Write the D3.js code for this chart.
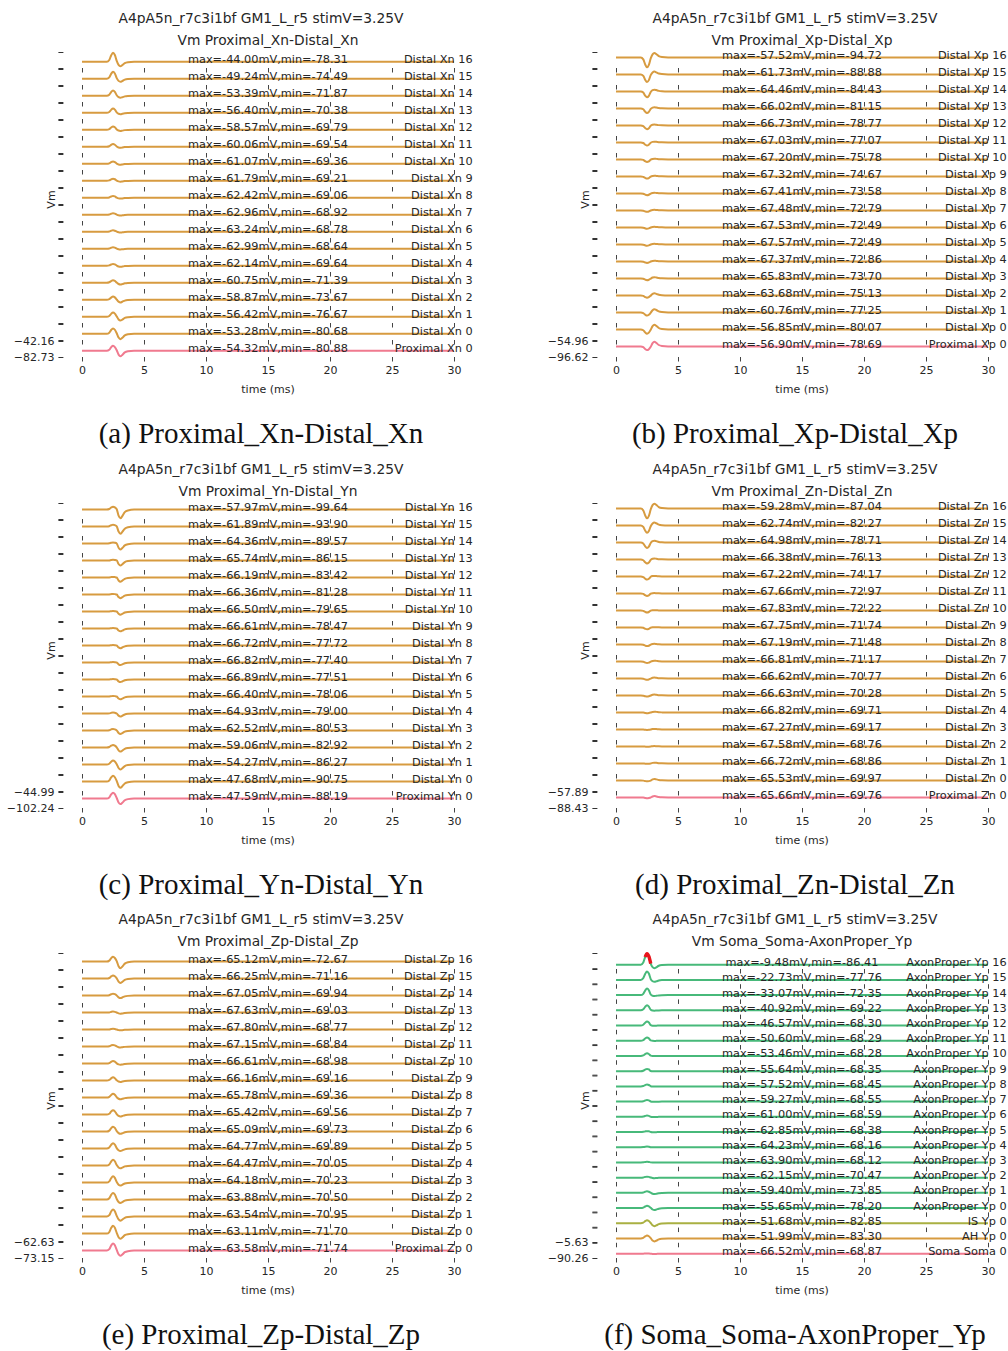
<!DOCTYPE html>
<html>
<head>
<meta charset="utf-8">
<script src="https://cdn.jsdelivr.net/npm/d3@7"></script>
<style>
  html, body { margin: 0; padding: 0; background: #fff; }
  svg { display: block; }
  .mpl { font-family: "DejaVu Sans", sans-serif; fill: #262626; }
  .cap { font-family: "Liberation Serif", "Times New Roman", serif; fill: #111; }
</style>
</head>
<body>
<svg id="fig" width="1008" height="1351"></svg>
<script>
// ---- shared text ----
const runTitle = "A4pA5n_r7c3i1bf GM1_L_r5 stimV=3.25V";
const xTickValues = [0, 5, 10, 15, 20, 25, 30];
const xLabel = "time (ms)";
const yLabel = "Vm";

// ---- spike waveform template (time in ms, normalised deflection) ----
const spikeTime  = [0, 2.0, 2.2, 2.35, 2.5, 2.65, 2.8, 2.95, 3.1, 3.25, 3.45, 3.7, 4.2, 30];
const peakFirst  = [0, 0, 0.2, 0.7, 1.0, 0.75, 0.1, -0.7, -1.0, -0.75, -0.3, -0.1, 0, 0];
const troughFirst = [0, 0, -0.2, -0.7, -1.0, -0.75, -0.1, 0.7, 1.0, 0.75, 0.3, 0.1, 0, 0];

// ---- (a) Proximal_Xn-Distal_Xn ----
const labelsA = ["Distal Xn 16","Distal Xn 15","Distal Xn 14","Distal Xn 13","Distal Xn 12","Distal Xn 11","Distal Xn 10","Distal Xn 9","Distal Xn 8","Distal Xn 7","Distal Xn 6","Distal Xn 5","Distal Xn 4","Distal Xn 3","Distal Xn 2","Distal Xn 1","Distal Xn 0","Proximal Xn 0"];
const maxA = [-44.00,-49.24,-53.39,-56.40,-58.57,-60.06,-61.07,-61.79,-62.42,-62.96,-63.24,-62.99,-62.14,-60.75,-58.87,-56.42,-53.28,-54.32];
const minA = [-78.31,-74.49,-71.87,-70.38,-69.79,-69.54,-69.36,-69.21,-69.06,-68.92,-68.78,-68.64,-69.64,-71.39,-73.67,-76.67,-80.68,-80.88];
const yTicksA = [-82.73, -42.16];
const restA = -67.0;

// ---- (b) Proximal_Xp-Distal_Xp ----
const labelsB = ["Distal Xp 16","Distal Xp 15","Distal Xp 14","Distal Xp 13","Distal Xp 12","Distal Xp 11","Distal Xp 10","Distal Xp 9","Distal Xp 8","Distal Xp 7","Distal Xp 6","Distal Xp 5","Distal Xp 4","Distal Xp 3","Distal Xp 2","Distal Xp 1","Distal Xp 0","Proximal Xp 0"];
const maxB = [-57.52,-61.73,-64.46,-66.02,-66.73,-67.03,-67.20,-67.32,-67.41,-67.48,-67.53,-67.57,-67.37,-65.83,-63.68,-60.76,-56.85,-56.90];
const minB = [-94.72,-88.88,-84.43,-81.15,-78.77,-77.07,-75.78,-74.67,-73.58,-72.79,-72.49,-72.49,-72.86,-73.70,-75.13,-77.25,-80.07,-78.69];
const yTicksB = [-96.62, -54.96];
const restB = -69.0;

// ---- (c) Proximal_Yn-Distal_Yn ----
const labelsC = ["Distal Yn 16","Distal Yn 15","Distal Yn 14","Distal Yn 13","Distal Yn 12","Distal Yn 11","Distal Yn 10","Distal Yn 9","Distal Yn 8","Distal Yn 7","Distal Yn 6","Distal Yn 5","Distal Yn 4","Distal Yn 3","Distal Yn 2","Distal Yn 1","Distal Yn 0","Proximal Yn 0"];
const maxC = [-57.97,-61.89,-64.36,-65.74,-66.19,-66.36,-66.50,-66.61,-66.72,-66.82,-66.89,-66.40,-64.93,-62.52,-59.06,-54.27,-47.68,-47.59];
const minC = [-99.64,-93.90,-89.57,-86.15,-83.42,-81.28,-79.65,-78.47,-77.72,-77.40,-77.51,-78.06,-79.00,-80.53,-82.92,-86.27,-90.75,-88.19];
const yTicksC = [-102.24, -44.99];
const restC = -68.5;

// ---- (d) Proximal_Zn-Distal_Zn ----
const labelsD = ["Distal Zn 16","Distal Zn 15","Distal Zn 14","Distal Zn 13","Distal Zn 12","Distal Zn 11","Distal Zn 10","Distal Zn 9","Distal Zn 8","Distal Zn 7","Distal Zn 6","Distal Zn 5","Distal Zn 4","Distal Zn 3","Distal Zn 2","Distal Zn 1","Distal Zn 0","Proximal Zn 0"];
const maxD = [-59.28,-62.74,-64.98,-66.38,-67.22,-67.66,-67.83,-67.75,-67.19,-66.81,-66.62,-66.63,-66.82,-67.27,-67.58,-66.72,-65.53,-65.66];
const minD = [-87.04,-82.27,-78.71,-76.13,-74.17,-72.97,-72.22,-71.74,-71.48,-71.17,-70.77,-70.28,-69.71,-69.17,-68.76,-68.86,-69.97,-69.76];
const yTicksD = [-88.43, -57.89];
const restD = -68.3;

// ---- (e) Proximal_Zp-Distal_Zp ----
const labelsE = ["Distal Zp 16","Distal Zp 15","Distal Zp 14","Distal Zp 13","Distal Zp 12","Distal Zp 11","Distal Zp 10","Distal Zp 9","Distal Zp 8","Distal Zp 7","Distal Zp 6","Distal Zp 5","Distal Zp 4","Distal Zp 3","Distal Zp 2","Distal Zp 1","Distal Zp 0","Proximal Zp 0"];
const maxE = [-65.12,-66.25,-67.05,-67.63,-67.80,-67.15,-66.61,-66.16,-65.78,-65.42,-65.09,-64.77,-64.47,-64.18,-63.88,-63.54,-63.11,-63.58];
const minE = [-72.67,-71.16,-69.94,-69.03,-68.77,-68.84,-68.98,-69.16,-69.36,-69.56,-69.73,-69.89,-70.05,-70.23,-70.50,-70.95,-71.70,-71.74];
const yTicksE = [-73.15, -62.63];
const restE = -68.3;

// ---- (f) Soma_Soma-AxonProper_Yp ----
const labelsF = ["AxonProper Yp 16","AxonProper Yp 15","AxonProper Yp 14","AxonProper Yp 13","AxonProper Yp 12","AxonProper Yp 11","AxonProper Yp 10","AxonProper Yp 9","AxonProper Yp 8","AxonProper Yp 7","AxonProper Yp 6","AxonProper Yp 5","AxonProper Yp 4","AxonProper Yp 3","AxonProper Yp 2","AxonProper Yp 1","AxonProper Yp 0","IS Yp 0","AH Yp 0","Soma Soma 0"];
const maxF = [-9.48,-22.73,-33.07,-40.92,-46.57,-50.60,-53.46,-55.64,-57.52,-59.27,-61.00,-62.85,-64.23,-63.90,-62.15,-59.40,-55.65,-51.68,-51.99,-66.52];
const minF = [-86.41,-77.76,-72.35,-69.22,-68.30,-68.29,-68.28,-68.35,-68.45,-68.55,-68.59,-68.38,-68.16,-68.12,-70.47,-73.85,-78.20,-82.85,-83.30,-68.87];
const yTicksF = [-90.26, -5.63];
const restF = -67.5;

// compartment colours
const colDistal = "#d79b40";
const colProximal = "#f07a8f";
const colAxon = "#47b97a";
const colIS = "#a9b042";
const colAH = "#d79b40";
const colSoma = "#f07a8f";
const colMark = "#e8141c";

const captions = ["(a) Proximal_Xn-Distal_Xn","(b) Proximal_Xp-Distal_Xp","(c) Proximal_Yn-Distal_Yn","(d) Proximal_Zn-Distal_Zn","(e) Proximal_Zp-Distal_Zp","(f) Soma_Soma-AxonProper_Yp"];
const subTitles = ["Vm Proximal_Xn-Distal_Xn","Vm Proximal_Xp-Distal_Xp","Vm Proximal_Yn-Distal_Yn","Vm Proximal_Zn-Distal_Zn","Vm Proximal_Zp-Distal_Zp","Vm Soma_Soma-AxonProper_Yp"];

function distalColours(n) { return d3.range(n).map((i) => i === n - 1 ? colProximal : colDistal); }

const panels = [
  { labels: labelsA, max: maxA, min: minA, yTicks: yTicksA, rest: restA, shape: peakFirst,  colors: distalColours(18), col: 0, row: 0 },
  { labels: labelsB, max: maxB, min: minB, yTicks: yTicksB, rest: restB, shape: troughFirst, colors: distalColours(18), col: 1, row: 0 },
  { labels: labelsC, max: maxC, min: minC, yTicks: yTicksC, rest: restC, shape: peakFirst,  colors: distalColours(18), col: 0, row: 1 },
  { labels: labelsD, max: maxD, min: minD, yTicks: yTicksD, rest: restD, shape: troughFirst, colors: distalColours(18), col: 1, row: 1 },
  { labels: labelsE, max: maxE, min: minE, yTicks: yTicksE, rest: restE, shape: peakFirst,  colors: distalColours(18), col: 0, row: 2 },
  { labels: labelsF, max: maxF, min: minF, yTicks: yTicksF, rest: restF, shape: peakFirst,
    colors: labelsF.map((l) => l.startsWith("AxonProper") ? colAxon : l.startsWith("IS") ? colIS : l.startsWith("AH") ? colAH : colSoma),
    col: 1, row: 2, mark: true },
];

// ---- layout ----
const colZero = [82, 616];          // pixel of t = 0 in each column
const pxPerMs = 12.4;
const rowOffset = [0, 451, 901];
const stackTop = 52, rowH = 16, stackSpan = 305;

const svg = d3.select("#fig");

panels.forEach((p, pi) => {
  const g = svg.append("g");
  const oy = rowOffset[p.row];
  const left = colZero[p.col] - 1.5 * pxPerMs;
  const right = colZero[p.col] + 31.5 * pxPerMs;
  const cx = (left + right) / 2;
  const x = d3.scaleLinear().domain([-1.5, 31.5]).range([left, right]);
  const n = p.labels.length;
  const step = (stackSpan - rowH) / (n - 1);

  // titles
  g.append("text").attr("class", "mpl").attr("x", cx - 7).attr("y", oy + 23)
    .attr("text-anchor", "middle").attr("font-size", 13.8).text(runTitle);
  g.append("text").attr("class", "mpl").attr("x", cx).attr("y", oy + 45)
    .attr("text-anchor", "middle").attr("font-size", 13.8).text(subTitles[pi]);

  p.labels.forEach((lab, i) => {
    const top = oy + stackTop + i * step;
    const y = d3.scaleLinear().domain(p.yTicks).range([top + rowH, top]);
    const last = i === n - 1;

    // y ticks (both limits of each strip)
    const ya = d3.axisLeft(y).tickValues(p.yTicks).tickSize(5).tickPadding(4);
    const yg = g.append("g").attr("transform", `translate(${left},0)`).call(ya);
    yg.select(".domain").remove();
    yg.selectAll("line").attr("stroke", "#333");
    if (last) {
      yg.selectAll("text").attr("class", "mpl").attr("font-size", 11).attr("fill", "#333")
        .text((d) => d3.format(".2f")(d).replace("-", "\u2212"));
    } else {
      yg.selectAll("text").remove();
    }

    // x ticks under each strip
    const xa = d3.axisBottom(x).tickValues(xTickValues).tickSize(4.5).tickPadding(5);
    const xg = g.append("g").attr("transform", `translate(0,${top + rowH})`).call(xa);
    xg.select(".domain").remove();
    xg.selectAll("line").attr("stroke", "#444");
    if (last) {
      xg.selectAll("text").attr("class", "mpl").attr("font-size", 11).attr("fill", "#333");
    } else {
      xg.selectAll("text").remove();
    }

    // voltage trace
    const amp = p.shape.map((s) => s >= 0 ? p.rest + s * (p.max[i] - p.rest) : p.rest - s * (p.min[i] - p.rest));
    const pts = spikeTime.map((t, k) => [t, amp[k]]);
    const line = d3.line().x((d) => x(d[0])).y((d) => y(d[1])).curve(d3.curveMonotoneX);
    g.append("path").attr("d", line(pts)).attr("fill", "none")
      .attr("stroke", p.colors[i]).attr("stroke-width", 2);

    // spike marker on the leading axon trace: the upstroke-to-peak window
    if (p.mark && i === 0) {
      const seg = pts.filter((d) => d[0] >= 2.35 && d[0] <= 2.8);
      g.append("path").attr("d", line(seg)).attr("fill", "none")
        .attr("stroke", colMark).attr("stroke-width", 3.4);
    }

    // annotations
    const by = y(p.rest) + 1.5;
    g.append("text").attr("class", "mpl").attr("x", cx).attr("y", by)
      .attr("text-anchor", "middle").attr("font-size", 11.3)
      .text(`max=${p.max[i].toFixed(2)}mV,min=${p.min[i].toFixed(2)}`);
    g.append("text").attr("class", "mpl").attr("x", right).attr("y", by)
      .attr("text-anchor", "end").attr("font-size", 11.3).text(lab);
  });

  // axis labels
  g.append("text").attr("class", "mpl").attr("x", cx).attr("y", oy + 393)
    .attr("text-anchor", "middle").attr("font-size", 11).attr("fill", "#333").text(xLabel);
  g.append("text").attr("class", "mpl").attr("font-size", 11).attr("fill", "#333")
    .attr("text-anchor", "middle")
    .attr("transform", `translate(${left - 8},${oy + stackTop + stackSpan / 2 - 5}) rotate(-90)`)
    .text(yLabel);

  // caption
  svg.append("text").attr("class", "cap").attr("x", cx - 7).attr("y", oy + 443)
    .attr("text-anchor", "middle").attr("font-size", 29).text(captions[pi]);
});
</script>
</body>
</html>
